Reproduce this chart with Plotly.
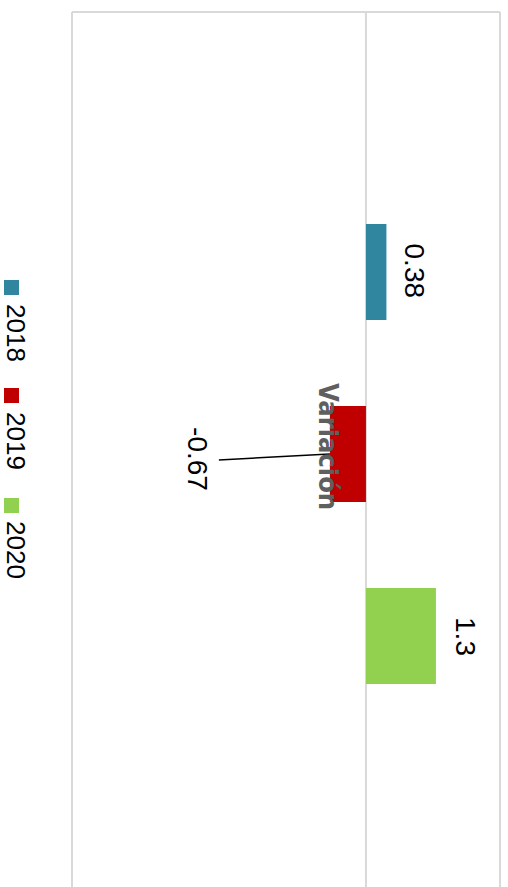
import plotly.graph_objects as go

# ---- data ----
categories = ["Variación"]
series_names = ["2018", "2019", "2020"]
values_2018 = [0.38]
values_2019 = [-0.67]
values_2020 = [1.3]
series_values = [values_2018, values_2019, values_2020]
series_colors = ["#31869f", "#c00000", "#92d050"]

# ---- layout constants ----
W, H = 508, 887
ML, MR, MT, MB = 72, 8, 12, 0
X_RANGE = [-5.46, 2.49]
Y_RANGE = [0.4949, -0.5051]   # reversed so first series is on top
BARGAP = 0.376
BARGROUPGAP = 0.473
GRID = "#d9d9d9"
LABEL_FONT = "Liberation Sans, Arial, sans-serif"
CAT_FONT = "Liberation Sans Narrow, DejaVu Sans Condensed, Arial Narrow, sans-serif"

PW = W - ML - MR
PH = H - MT - MB


def px_x(px):
    return (px - ML) / PW


def px_y(py):
    return (H - MB - py) / PH


fig = go.Figure()
for name, vals, col in zip(series_names, series_values, series_colors):
    fig.add_trace(go.Bar(
        x=vals, y=categories, orientation="h", name=name,
        marker=dict(color=col, line=dict(width=0)),
        showlegend=False, hoverinfo="x+name",
    ))

# slot width (data units on the category axis) for each series in the group
n = len(series_names)
slot = (1 - BARGAP) / n
centers = [(i - (n - 1) / 2) * slot for i in range(n)]

shapes = []
annotations = []

# frame lines and zero line
shapes.append(dict(type="line", xref="paper", yref="paper", x0=0, x1=0, y0=0, y1=1,
                   line=dict(color=GRID, width=2), layer="below"))
shapes.append(dict(type="line", xref="paper", yref="paper", x0=1, x1=1, y0=0, y1=1,
                   line=dict(color=GRID, width=2), layer="below"))
shapes.append(dict(type="line", xref="paper", yref="paper", x0=0, x1=1, y0=1, y1=1,
                   line=dict(color=GRID, width=2), layer="below"))
shapes.append(dict(type="line", xref="x", yref="paper", x0=0, x1=0, y0=0, y1=1,
                   line=dict(color=GRID, width=2), layer="below"))

# data labels (pixel offsets from bar end)
label_xshift = [28, -133, 29]
label_yshift = [1, -5, -1]
for i, (vals, c) in enumerate(zip(series_values, centers)):
    v = vals[0]
    annotations.append(dict(
        x=v, y=c, xref="x", yref="y", text=f"{v:g}", showarrow=False,
        textangle=90, xanchor="center", yanchor="middle",
        xshift=label_xshift[i], yshift=label_yshift[i],
        font=dict(family=LABEL_FONT, size=28, color="#000000"),
    ))

# leader line for the moved 2019 label
v19 = values_2019[0]
kx = PW / (X_RANGE[1] - X_RANGE[0])
ky = PH / abs(Y_RANGE[0] - Y_RANGE[1])
shapes.append(dict(
    type="line", xref="x", yref="y",
    x0=v19 + (label_xshift[1] + 22) / kx, y0=centers[1] + 6 / ky,
    x1=v19, y1=centers[1],
    line=dict(color="#000000", width=1.5),
))

# category label
annotations.append(dict(
    x=0, y=0, xref="x", yref="y", text=f"<b>{categories[0]}</b>", showarrow=False,
    textangle=90, xanchor="center", yanchor="middle", xshift=-38, yshift=7,
    font=dict(family=CAT_FONT, size=27, color="#5f5f5f"),
))

# manual rotated legend
leg_sq_top = [280, 388, 498]
leg_txt_center = [333, 441, 550]
for name, col, sq, tc in zip(series_names, series_colors, leg_sq_top, leg_txt_center):
    shapes.append(dict(type="rect", xref="paper", yref="paper",
                       x0=px_x(4), x1=px_x(19), y0=px_y(sq + 15), y1=px_y(sq),
                       fillcolor=col, line=dict(width=0)))
    annotations.append(dict(
        x=px_x(16), y=px_y(tc), xref="paper", yref="paper", text=name,
        showarrow=False, textangle=90, xanchor="center", yanchor="middle",
        font=dict(family=LABEL_FONT, size=26, color="#000000"),
    ))

fig.update_layout(
    width=W, height=H,
    margin=dict(l=ML, r=MR, t=MT, b=MB, pad=0),
    paper_bgcolor="#ffffff", plot_bgcolor="#ffffff",
    barmode="group", bargap=BARGAP, bargroupgap=BARGROUPGAP,
    xaxis=dict(range=X_RANGE, showgrid=False, zeroline=False, showticklabels=False,
               ticks="", showline=False, fixedrange=True),
    yaxis=dict(type="category", range=Y_RANGE, showgrid=False, zeroline=False,
               showticklabels=False, ticks="", showline=False, fixedrange=True),
    shapes=shapes, annotations=annotations, showlegend=False,
)

fig.write_html(
    "out.html",
    config={"displayModeBar": False},
    post_script="document.body.style.margin='0';document.body.style.overflow='hidden';",
)
